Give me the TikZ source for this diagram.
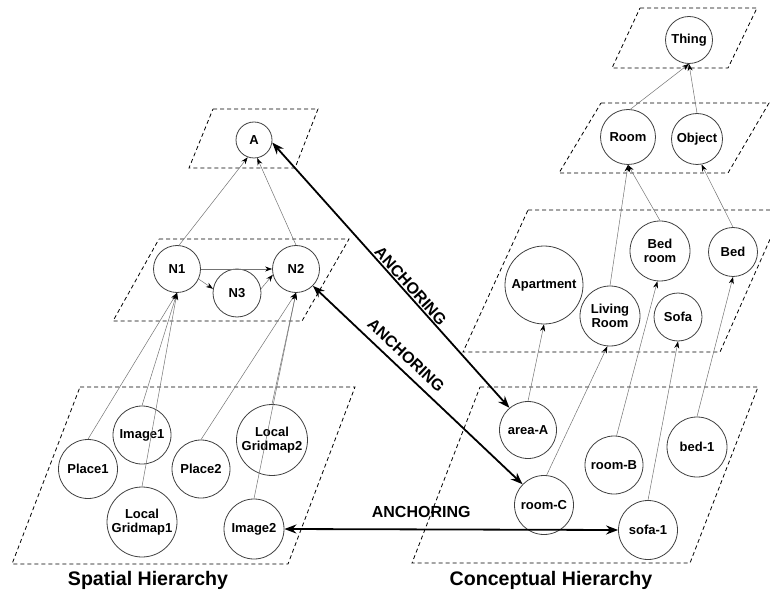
\documentclass[tikz,border=0pt]{standalone}
\usepackage{fontspec}
\setmainfont{Liberation Sans}
\usetikzlibrary{arrows.meta}
\begin{document}
\begin{tikzpicture}[x=1pt,y=-1pt,
  plane/.style={draw=black, line width=0.8pt, dash pattern=on 4pt off 3pt},
  concept/.style={circle, draw=black!75, line width=0.8pt, inner sep=0pt, align=center,
    font=\fontsize{13}{14.5}\selectfont\bfseries},
  link/.style={draw=black!55, line width=0.5pt, -{Stealth[length=7pt,width=5pt,color=black]}},
  anchorlink/.style={line width=1.8pt, {Stealth[length=12pt,width=9pt]}-{Stealth[length=12pt,width=9pt]}},
  anchorlabel/.style={font=\fontsize{16}{18}\selectfont\bfseries, inner sep=1pt},
  title/.style={font=\fontsize{19.6}{22}\selectfont\bfseries}]
\useasboundingbox (0,0) rectangle (770,593);
\clip (0,0) rectangle (770,593);

% ---- layers (dashed planes) ----
\draw[plane] (213,109) -- (318,109) -- (295,168) -- (189,168) -- cycle;
\draw[plane] (159,239) -- (349,239) -- (302,321) -- (113,321) -- cycle;
\draw[plane] (80,387) -- (355,387) -- (288,564) -- (12,564) -- cycle;
\draw[plane] (640,8) -- (757,8) -- (728,68) -- (612,68) -- cycle;
\draw[plane] (601,103) -- (769,103) -- (728,173) -- (559,173) -- cycle;
\draw[plane] (528,210) -- (783,210) -- (720,352) -- (463,352) -- cycle;
\draw[plane] (480,387) -- (758,387) -- (690,563) -- (412,563) -- cycle;

% ---- spatial hierarchy ----
\node[concept, minimum size=36pt] (A) at (254,140) {A};
\node[concept, minimum size=47pt] (N1) at (177,269) {N1};
\node[concept, minimum size=47pt] (N2) at (296,269) {N2};
\node[concept, minimum size=48pt] (N3) at (237,293) {N3};
\node[concept, minimum size=58pt] (img1) at (142,435) {Image1};
\node[concept, minimum size=59pt] (pl1) at (88,469) {Place1};
\node[concept, minimum size=58pt] (pl2) at (201,469) {Place2};
\node[concept, minimum size=71pt] (lg2) at (272,440) {Local\\Gridmap2};
\node[concept, minimum size=70pt] (lg1) at (142,522) {Local\\Gridmap1};
\node[concept, minimum size=60pt] (img2) at (254,529) {Image2};

% ---- conceptual hierarchy ----
\node[concept, minimum size=47pt] (thing) at (689,40) {Thing};
\node[concept, minimum size=55pt] (room) at (628,137) {Room};
\node[concept, minimum size=51pt] (object) at (697,139) {Object};
\node[concept, minimum size=78pt] (apt) at (544,285) {Apartment};
\node[concept, minimum size=60pt] (living) at (610,316) {Living\\Room};
\node[concept, minimum size=60pt] (bedroom) at (660,251) {Bed\\room};
\node[concept, minimum size=48pt] (sofa) at (678,317) {Sofa};
\node[concept, minimum size=49pt] (bed) at (733,252) {Bed};
\node[concept, minimum size=57pt] (areaA) at (528,430) {area-A};
\node[concept, minimum size=58pt] (roomB) at (614,465) {room-B};
\node[concept, minimum size=60pt] (bed1) at (697,447) {bed-1};
\node[concept, minimum size=59pt] (roomC) at (544,505) {room-C};
\node[concept, minimum size=59pt] (sofa1) at (648,530) {sofa-1};

% ---- spatial links ----
\draw[link] (N1.85) -- (A.250);
\draw[link] (N2.north) -- (A.280);
\draw[link] (N1.east) -- (N2.west);
\draw[link] (N1.-25) -- (N3.170);
\draw[link] (N3.10) -- (N2.194);
\draw[link] (pl1.north) -- (N1.south);
\draw[link] (img1.north) -- (N1.south);
\draw[link] (lg1.north) -- (N1.south);
\draw[link] (pl2.north) -- (N2.south);
\draw[link] (lg2.north) -- (N2.south);
\draw[link] (img2.north) -- (N2.south);

% ---- conceptual links ----
\draw[link] (areaA.north) -- (apt.south);
\draw[link] (roomC.85) -- (living.265);
\draw[link] (roomB.85) -- (bedroom.265);
\draw[link] (sofa1.north) -- (sofa.south);
\draw[link] (bed1.north) -- (bed.south);
\draw[link] (living.north) -- (room.south);
\draw[link] (bedroom.north) -- (room.south);
\draw[link] (bed.north) -- (object.280);
\draw[link] (room.85) -- (thing.south);
\draw[link] (object.north) -- (thing.south);

% ---- anchoring ----
\draw[anchorlink] (A.-8) -- node[anchorlabel, sloped, above, pos=0.56] {ANCHORING} (areaA.130);
\draw[anchorlink] (N2.-45) -- node[anchorlabel, sloped, above=6pt, pos=0.40] {ANCHORING} (roomC.136);
\draw[anchorlink] (img2.east) -- node[anchorlabel, above=10pt, pos=0.41] {ANCHORING} (sofa1.west);

% ---- captions ----
\node[title] (spatial) at (148,580) {Spatial Hierarchy};
\node[title] (conceptual) at (551,580) {Conceptual Hierarchy};
\end{tikzpicture}
\end{document}
